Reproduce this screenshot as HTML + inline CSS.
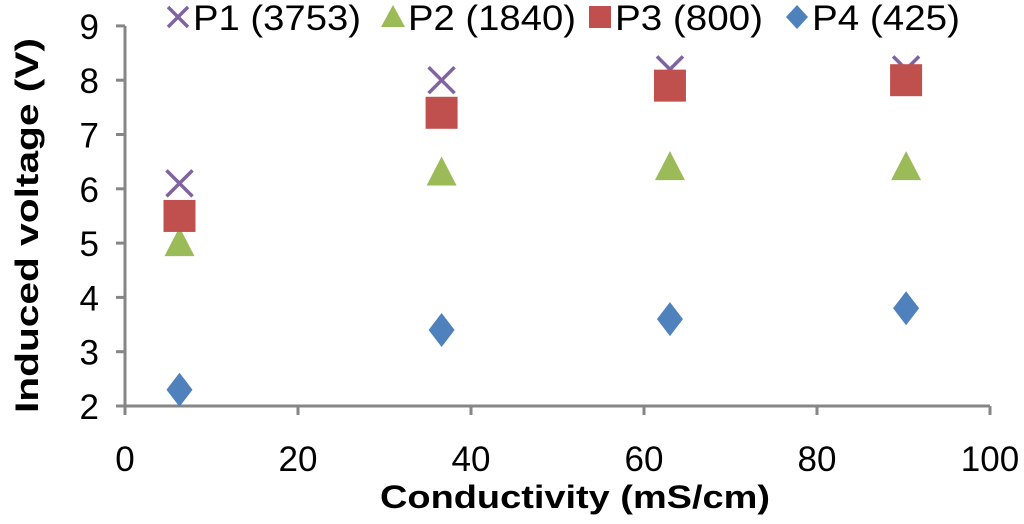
<!DOCTYPE html>
<html><head><meta charset="utf-8"><style>
body{margin:0;background:#fff}
svg text{font-family:"Liberation Sans",sans-serif}
</style></head><body>
<svg id="c" width="1024" height="519" xmlns="http://www.w3.org/2000/svg"></svg>
<script>
const xs = [6.3, 36.6, 63, 90.3];
const p1 = [6.1, 8.0, 8.2, 8.2];
const p2 = [5.0, 6.3, 6.4, 6.4];
const p3 = [5.5, 7.4, 7.9, 8.0];
const p4 = [2.3, 3.4, 3.6, 3.8];
const xTicks = [0, 20, 40, 60, 80, 100];
const yTicks = [2, 3, 4, 5, 6, 7, 8, 9];
const seriesNames = ["P1 (3753)", "P2 (1840)", "P3 (800)", "P4 (425)"];

const svg = document.getElementById('c');
const NS = 'http://www.w3.org/2000/svg';
const X = v => 125 + v * 8.65;
const Y = v => 406 - (v - 2) * 54.3;
function el(tag, attrs, parent) {
  const e = document.createElementNS(NS, tag);
  for (const k in attrs) e.setAttribute(k, attrs[k]);
  (parent || svg).appendChild(e);
  return e;
}
let a = el('line', {x1: X(0), y1: Y(2), x2: X(100), y2: Y(2), stroke: '#868686', 'stroke-width': 3});


a = el('line', {x1: X(0), y1: Y(2), x2: X(0), y2: Y(9), stroke: '#868686', 'stroke-width': 3});


xTicks.forEach(t => {
  el('line', {x1: X(t), y1: Y(2), x2: X(t), y2: Y(2) + 9, stroke: '#868686', 'stroke-width': 3});
  const tx = el('text', {x: X(t), y: 471, 'font-size': 35, 'text-anchor': 'middle', fill: '#000'});
  tx.textContent = t;
  
  
});
yTicks.forEach(t => {
  el('line', {x1: X(0) - 9, y1: Y(t), x2: X(0), y2: Y(t), stroke: '#868686', 'stroke-width': 3});
  const tx = el('text', {x: 99, y: Y(t) + 13, 'font-size': 35, 'text-anchor': 'end', fill: '#000'});
  tx.textContent = t;
  
  
});
let t = el('text', {x: 380, y: 508, 'font-size': 32, 'font-weight': 'bold', textLength: 390, lengthAdjust: 'spacingAndGlyphs'});
t.textContent = 'Conductivity (mS/cm)';


t = el('text', {x: 0, y: 0, 'font-size': 32, 'font-weight': 'bold', textLength: 375, lengthAdjust: 'spacingAndGlyphs', transform: 'translate(38,413) rotate(-90)'});
t.textContent = 'Induced voltage (V)';



function cross(cx, cy, g) { el('path', {d: `M${cx-13},${cy-13}L${cx+13},${cy+13}M${cx+13},${cy-13}L${cx-13},${cy+13}`, stroke: '#8064a2', 'stroke-width': 3.5, fill: 'none'}, g); }
function tri(cx, cy, g) { el('polygon', {points: `${cx},${cy-16} ${cx+15},${cy+13} ${cx-15},${cy+13}`, fill: '#9bbb59'}, g); }
function sq(cx, cy, g) { el('rect', {x: cx-16, y: cy-16, width: 32, height: 32, fill: '#c0504d'}, g); }
function dia(cx, cy, g) { el('polygon', {points: `${cx},${cy-17} ${cx+13},${cy} ${cx},${cy+17} ${cx-13},${cy}`, fill: '#4f81bd'}, g); }
const sets = [[p1, cross, 'p1'], [p2, tri, 'p2'], [p3, sq, 'p3'], [p4, dia, 'p4']];
sets.forEach(([vals, fn, nm]) => {
  const g = el('g', {});
  
  
  vals.forEach((v, i) => fn(X(xs[i]), Y(v), g));
});
const lx = [178, 393, 600, 797];
const lw = [168, 168, 148, 148];
sets.forEach(([vals, fn, nm], i) => {
  const g = el('g', {});
  
  
  if (fn === cross) el('path', {d: `M${lx[i]-10},${17-10}L${lx[i]+10},${17+10}M${lx[i]+10},${17-10}L${lx[i]-10},${17+10}`, stroke: '#8064a2', 'stroke-width': 3.5}, g);
  else if (fn === tri) el('polygon', {points: `${lx[i]},5 ${lx[i]+12},27 ${lx[i]-12},27`, fill: '#9bbb59'}, g);
  else if (fn === sq) el('rect', {x: lx[i]-11, y: 6, width: 22, height: 22, fill: '#c0504d'}, g);
  else el('polygon', {points: `${lx[i]},5 ${lx[i]+11},17 ${lx[i]},29 ${lx[i]-11},17`, fill: '#4f81bd'}, g);
  const tx = el('text', {x: lx[i] + 15, y: 30, 'font-size': 35, textLength: lw[i], lengthAdjust: 'spacingAndGlyphs'}, g);
  tx.textContent = seriesNames[i];
});
</script>
</body></html>
